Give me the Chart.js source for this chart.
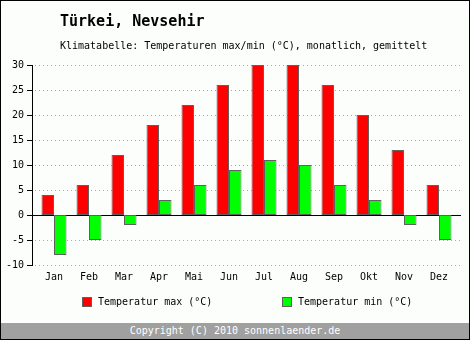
<!DOCTYPE html>
<html>
<head>
<meta charset="utf-8">
<script src="https://cdn.jsdelivr.net/npm/chart.js@4/dist/chart.umd.min.js"></script>
<style>
  html, body { margin: 0; padding: 0; background: #fcfefc; }
  #wrap { position: relative; width: 470px; height: 340px; background: #fcfefc; font-family: 'DejaVu Sans Mono', monospace; color: #000; }
  #chartBox { position: absolute; left: 0; top: 0; width: 470px; height: 340px; }
  #frame { position: absolute; left: 0; top: 0; width: 470px; height: 340px; border: 1px solid #000; box-sizing: border-box; pointer-events: none; }
  .txt { position: absolute; white-space: nowrap; line-height: 1; }
  #title { left: 60px; top: 14px; font-size: 15px; font-weight: bold; }
  #subtitle { left: 60px; top: 41px; font-size: 10px; }
  .lg { position: absolute; top: 297px; font-size: 10px; line-height: 10px; white-space: nowrap; }
  .lg i { display: inline-block; width: 8px; height: 8px; border: 1px solid #606060; vertical-align: top; margin-right: 6px; }
  #footer { position: absolute; left: 1px; top: 323px; width: 468px; height: 16px; background: #a0a0a0; color: #fff; font-size: 10px; line-height: 16px; text-align: center; }
</style>
</head>
<body>
<div id="wrap">
  <div id="chartBox"><canvas id="chartClimate"></canvas></div>
  <div class="txt" id="title">Türkei, Nevsehir</div>
  <div class="txt" id="subtitle">Klimatabelle: Temperaturen max/min (°C), monatlich, gemittelt</div>
  <div class="lg" style="left:82px"><i style="background:#ff0000"></i><span id="lgMax"></span></div>
  <div class="lg" style="left:282px"><i style="background:#00ff00"></i><span id="lgMin"></span></div>
  <div id="footer">Copyright (C) 2010 sonnenlaender.de</div>
  <div id="frame"></div>
</div>
<script>
const months = ['Jan', 'Feb', 'Mar', 'Apr', 'Mai', 'Jun', 'Jul', 'Aug', 'Sep', 'Okt', 'Nov', 'Dez'];
const tempMax = [4, 6, 12, 18, 22, 26, 30, 30, 26, 20, 13, 6];
const tempMin = [-8, -5, -2, 3, 6, 9, 11, 10, 6, 3, -2, -5];
const labelMax = 'Temperatur max (°C)';
const labelMin = 'Temperatur min (°C)';

document.getElementById('lgMax').textContent = labelMax;
document.getElementById('lgMin').textContent = labelMin;

const mono = "'DejaVu Sans Mono', monospace";

// dotted grid, zero line and y axis drawn a bit wider than the bar area
const axisPlugin = {
  id: 'axisPlugin',
  beforeDatasetsDraw(chart) {
    const ctx = chart.ctx;
    const y = chart.scales.y;
    const x0 = 33, x1 = 461;
    ctx.save();
    ctx.strokeStyle = '#a8a8a8';
    ctx.lineWidth = 1;
    ctx.setLineDash([1, 3]);
    y.ticks.forEach(t => {
      if (t.value === 0) return;
      const py = Math.round(y.getPixelForValue(t.value)) + 0.5;
      ctx.beginPath();
      ctx.moveTo(x0 + 2, py);
      ctx.lineTo(x1, py);
      ctx.stroke();
    });
    ctx.setLineDash([]);
    ctx.strokeStyle = '#000';
    const top = Math.round(y.getPixelForValue(y.max));
    const bot = Math.round(y.getPixelForValue(y.min));
    ctx.beginPath();
    ctx.moveTo(32.5, top);
    ctx.lineTo(32.5, bot + 1);
    ctx.stroke();
    y.ticks.forEach(t => {
      const py = Math.round(y.getPixelForValue(t.value)) + 0.5;
      ctx.beginPath();
      ctx.moveTo(27, py);
      ctx.lineTo(33, py);
      ctx.stroke();
    });
    const pz = Math.round(y.getPixelForValue(0)) + 0.5;
    ctx.beginPath();
    ctx.moveTo(x0, pz);
    ctx.lineTo(x1, pz);
    ctx.stroke();
    ctx.restore();
  }
};

new Chart(document.getElementById('chartClimate'), {
  type: 'bar',
  data: {
    labels: months,
    datasets: [
      { label: labelMax, data: tempMax, backgroundColor: '#ff0000', borderColor: '#606060', borderWidth: 1, borderSkipped: false },
      { label: labelMin, data: tempMin, backgroundColor: '#00ff00', borderColor: '#606060', borderWidth: 1, borderSkipped: false }
    ]
  },
  options: {
    responsive: true,
    maintainAspectRatio: false,
    animation: false,
    layout: { padding: { top: 65, right: 13.5, bottom: 55, left: 0 } },
    datasets: { bar: { categoryPercentage: 0.7143, barPercentage: 1 } },
    scales: {
      x: {
        grid: { display: false, drawTicks: false },
        border: { display: false },
        ticks: { color: '#000', font: { family: mono, size: 10 }, padding: 6, maxRotation: 0 },
        afterFit(scale) { scale.height = 20; }
      },
      y: {
        min: -10,
        max: 30,
        grid: { display: false, drawTicks: false },
        border: { display: false },
        ticks: { stepSize: 5, color: '#000', font: { family: mono, size: 10 }, padding: 12.5 },
        afterFit(scale) { scale.width = 36.5; }
      }
    },
    plugins: { legend: { display: false }, tooltip: { enabled: false } }
  },
  plugins: [axisPlugin]
});
</script>
</body>
</html>
